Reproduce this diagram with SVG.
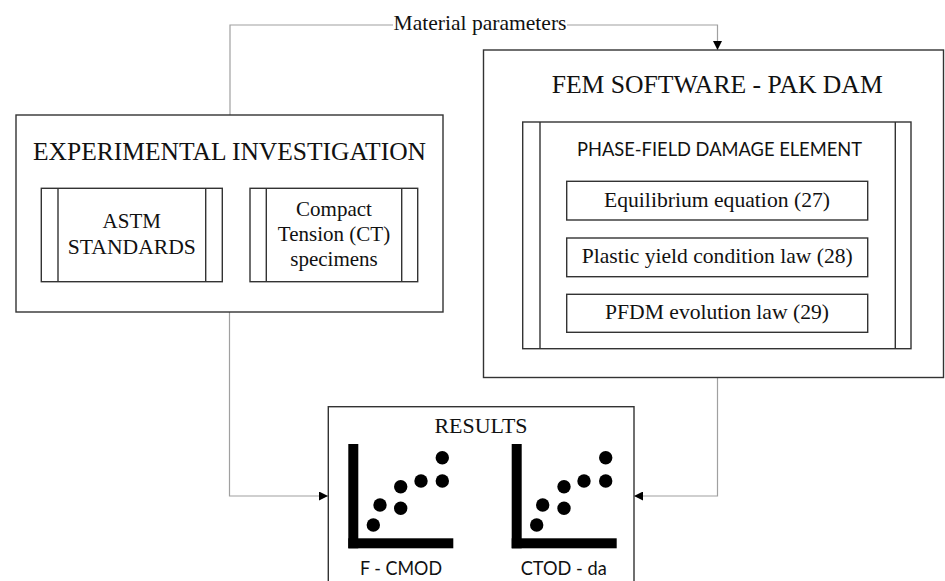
<svg xmlns="http://www.w3.org/2000/svg" width="945" height="581" viewBox="0 0 945 581">
<style>
.box{fill:#fff;stroke:#333;stroke-width:1.4}
.ln{stroke:#333;stroke-width:1.4}
.con{fill:none;stroke:#a0a0a0;stroke-width:1.2}
.serif{font-family:"Liberation Serif","Times New Roman",serif;fill:#111;text-anchor:middle}
.sans{font-family:Lato,"Open Sans","Liberation Sans",sans-serif;fill:#111;text-anchor:middle}
.blk{fill:#000}
</style>
<defs>
<marker id="arr" markerUnits="userSpaceOnUse" markerWidth="10" markerHeight="9" refX="9" refY="4.5" orient="auto">
<path d="M0,0 L9,4.5 L0,9 z" fill="#000"/>
</marker>
</defs>
<rect width="945" height="581" fill="#fff"/>
<g id="connectors">
<path class="con" d="M230,115 V25 H393"/>
<path class="con" d="M567,25 H717.5 V50" marker-end="url(#arr)"/>
<path class="con" d="M229.5,312 V496 H328" marker-end="url(#arr)"/>
<path class="con" d="M717.5,378 V496 H634" marker-end="url(#arr)"/>
<text class="serif" x="480" y="30" font-size="21.5" textLength="173" lengthAdjust="spacingAndGlyphs">Material parameters</text>
</g>
<g id="experimental">
<rect class="box" x="16" y="115" width="427" height="197"/>
<text class="serif" x="229.5" y="160" font-size="25" textLength="393" lengthAdjust="spacingAndGlyphs">EXPERIMENTAL INVESTIGATION</text>
</g>
<g id="astm">
<rect class="box" x="41.3" y="188.3" width="181" height="93.4"/>
<line class="ln" x1="58" y1="188.3" x2="58" y2="281.7"/>
<line class="ln" x1="205.7" y1="188.3" x2="205.7" y2="281.7"/>
<text class="serif" x="131.8" y="228.3" font-size="21">ASTM</text>
<text class="serif" x="131.8" y="254.3" font-size="21" textLength="128" lengthAdjust="spacingAndGlyphs">STANDARDS</text>
</g>
<g id="ct">
<rect class="box" x="250" y="188.3" width="167.7" height="93.4"/>
<line class="ln" x1="266.3" y1="188.3" x2="266.3" y2="281.7"/>
<line class="ln" x1="401.7" y1="188.3" x2="401.7" y2="281.7"/>
<text class="serif" x="334" y="216" font-size="21">Compact</text>
<text class="serif" x="334" y="241" font-size="21">Tension (CT)</text>
<text class="serif" x="334" y="266" font-size="21">specimens</text>
</g>
<g id="fem">
<rect class="box" x="483.5" y="50" width="460" height="327.5"/>
<text class="serif" x="717.2" y="93" font-size="25" textLength="331" lengthAdjust="spacingAndGlyphs">FEM SOFTWARE - PAK DAM</text>
</g>
<g id="phasefield">
<rect class="box" x="522.7" y="122" width="388.3" height="226.7"/>
<line class="ln" x1="540" y1="122" x2="540" y2="348.7"/>
<line class="ln" x1="895.3" y1="122" x2="895.3" y2="348.7"/>
<text class="sans" x="719.5" y="155.7" font-size="18.5" textLength="285" lengthAdjust="spacingAndGlyphs">PHASE-FIELD DAMAGE ELEMENT</text>
</g>
<g id="equilibrium">
<rect class="box" x="566.7" y="181.3" width="301" height="38.7"/>
<text class="serif" x="717" y="207.3" font-size="21.5" textLength="226" lengthAdjust="spacingAndGlyphs">Equilibrium equation (27)</text>
</g>
<g id="plastic">
<rect class="box" x="566.7" y="238" width="301" height="38.7"/>
<text class="serif" x="717.2" y="263.3" font-size="21.5" textLength="271" lengthAdjust="spacingAndGlyphs">Plastic yield condition law (28)</text>
</g>
<g id="pfdm">
<rect class="box" x="566.7" y="294.3" width="301" height="38"/>
<text class="serif" x="717" y="319.3" font-size="21.5" textLength="224" lengthAdjust="spacingAndGlyphs">PFDM evolution law (29)</text>
</g>
<g id="results">
<rect class="box" x="328.3" y="406.7" width="305.7" height="180"/>
<text class="serif" x="481" y="433.3" font-size="21.5" textLength="93" lengthAdjust="spacingAndGlyphs">RESULTS</text>
<g id="chart1">
<rect class="blk" x="348.3" y="444" width="10" height="104.3"/>
<rect class="blk" x="348.3" y="538.3" width="105" height="10"/>
<circle class="blk" cx="373.3" cy="525" r="6.7"/>
<circle class="blk" cx="380" cy="505" r="6.7"/>
<circle class="blk" cx="400.7" cy="508.3" r="6.7"/>
<circle class="blk" cx="400.7" cy="486.7" r="6.7"/>
<circle class="blk" cx="421" cy="481" r="6.7"/>
<circle class="blk" cx="442.3" cy="481" r="6.7"/>
<circle class="blk" cx="442.3" cy="457.7" r="6.7"/>
<text class="sans" x="401" y="575" font-size="19" textLength="82" lengthAdjust="spacingAndGlyphs">F - CMOD</text>
</g>
<g id="chart2">
<rect class="blk" x="511.7" y="444" width="10" height="104.3"/>
<rect class="blk" x="511.7" y="538.3" width="105" height="10"/>
<circle class="blk" cx="536.7" cy="525" r="6.7"/>
<circle class="blk" cx="542.7" cy="505" r="6.7"/>
<circle class="blk" cx="564" cy="508.3" r="6.7"/>
<circle class="blk" cx="564" cy="486.7" r="6.7"/>
<circle class="blk" cx="584" cy="481" r="6.7"/>
<circle class="blk" cx="605.7" cy="481" r="6.7"/>
<circle class="blk" cx="605.7" cy="457.7" r="6.7"/>
<text class="sans" x="563.7" y="575" font-size="19" textLength="86" lengthAdjust="spacingAndGlyphs">CTOD - da</text>
</g>
</g>
</svg>
